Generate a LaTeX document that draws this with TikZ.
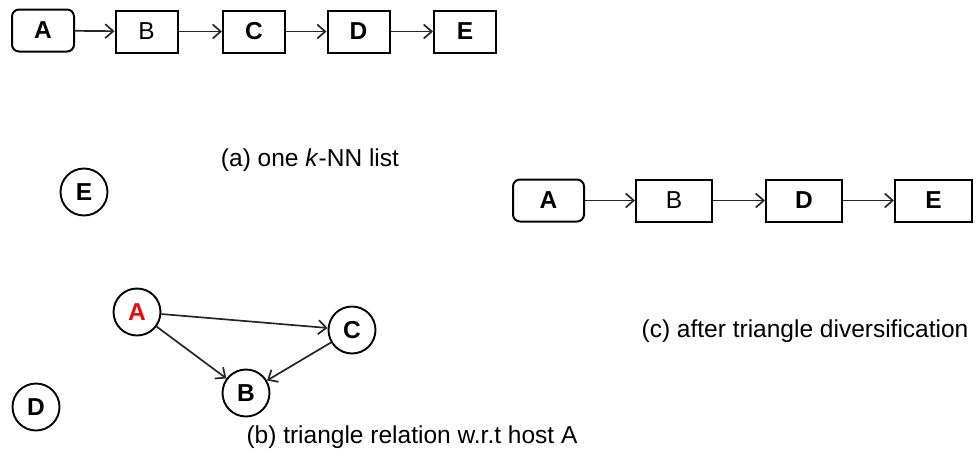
\documentclass[tikz,border=0pt]{standalone}
\usepackage{fontspec}
\setmainfont{Liberation Sans}
\usetikzlibrary{arrows.meta}
\begin{document}
\begin{tikzpicture}[x=1pt,y=-1pt,
  box/.style={draw, line width=2pt, minimum width=62pt, minimum height=42pt, inner sep=0pt, font=\fontsize{24.5}{28}\selectfont\bfseries},
  plainbox/.style={box, font=\fontsize{24.5}{28}\selectfont},
  rbox/.style={box, rounded corners=7pt},
  circ/.style={draw, circle, line width=1.9pt, minimum size=47pt, inner sep=0pt, font=\fontsize{24.5}{28}\selectfont\bfseries},
  arr/.style={-{Straight Barb[length=8pt,width=14pt]}, line width=1.7pt, draw=black!85},
  captext/.style={font=\fontsize{24.5}{28}\selectfont, inner sep=0pt}]
\useasboundingbox (0,0) rectangle (976,463);
% (a)
\node[rbox] (a1) at (43,30.5) {A};
\node[plainbox] (b1) at (146.5,31.5) {B};
\node[box] (c1) at (254,31.5) {C};
\node[box] (d1) at (358.5,31.5) {D};
\node[box] (e1) at (465,31.5) {E};
\draw[arr] (a1) -- (b1);
\draw[arr] (b1) -- (c1);
\draw[arr] (c1) -- (d1);
\draw[arr] (d1) -- (e1);
\node[captext] (capa) at (310,160) {(a) one \textit{k}-NN list};
% (c)
\node[rbox, minimum width=71pt] (a2) at (548.5,200.5) {A};
\node[plainbox, minimum width=76pt] (b2) at (674,200.5) {B};
\node[box, minimum width=76pt] (d2) at (804,200.5) {D};
\node[box, minimum width=77pt] (e2) at (933.5,200.5) {E};
\draw[arr] (a2) -- (b2);
\draw[arr] (b2) -- (d2);
\draw[arr] (d2) -- (e2);
\node[captext] (capc) at (805,331) {(c) after triangle diversification};
% (b)
\node[circ] (e3) at (84,192) {E};
\node[circ, text=red] (a3) at (137,312) {A};
\node[circ] (c3) at (352,330) {C};
\node[circ] (b3) at (246,393) {B};
\node[circ] (d3) at (36,407) {D};
\draw[arr] (a3) -- (c3);
\draw[arr] (a3) -- (b3);
\draw[arr] (c3) -- (b3);
\node[captext] (capb) at (412,437) {(b) triangle relation w.r.t host A};
\end{tikzpicture}
\end{document}
